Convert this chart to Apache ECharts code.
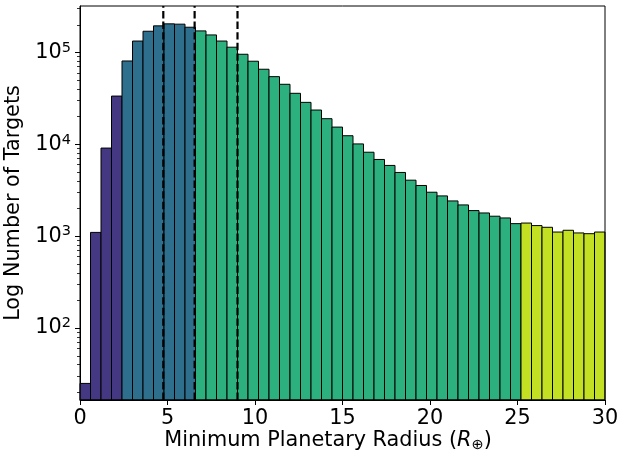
<!DOCTYPE html>
<html>
<head>
<meta charset="utf-8">
<script src="https://cdn.jsdelivr.net/npm/echarts@6/dist/echarts.min.js"></script>
<style>
html,body{margin:0;padding:0;background:#fff;}
#chart{width:621px;height:458px;}
</style>
</head>
<body>
<div id="chart"></div>
<script>
// ---- data ----
const xRange = [0, 30];
const binCount = 50;
const counts = [25, 1100, 9100, 33500, 80700, 133000, 170000, 194500, 204600, 203000,
  188000, 171500, 155000, 133000, 114000, 95500, 80200, 65600, 54500, 45000,
  35900, 28600, 23600, 19000, 15400, 12400, 10100, 8200, 6840, 5890,
  4940, 4070, 3565, 3010, 2745, 2420, 2190, 1900, 1790, 1650,
  1580, 1370, 1390, 1305, 1250, 1110, 1160, 1085, 1065, 1110];
const groupBreaks = [2.4, 6.6, 25.2];
const groupColors = ['#453882', '#2e6f8e', '#2cb07e', '#c4e022'];
const dashedLines = [4.76, 6.55, 9.0];
const xTicks = [0, 5, 10, 15, 20, 25, 30];
const yMajorTicks = [100, 1000, 10000, 100000];
const yMinorTicks = [20,30,40,50,60,70,80,90,200,300,400,500,600,700,800,900,
  2000,3000,4000,5000,6000,7000,8000,9000,20000,30000,40000,50000,60000,70000,80000,90000,200000,300000];
const yMin = 16.5, yMax = 320000;
const xLabel = 'Minimum Planetary Radius (';
const yLabel = 'Log Number of Targets';

// ---- build ----
const binW = (xRange[1] - xRange[0]) / binCount;
const bins = counts.map((c, i) => {
  const x0 = xRange[0] + i * binW;
  const mid = x0 + binW / 2;
  let g = 0;
  while (g < groupBreaks.length && mid > groupBreaks[g]) g++;
  return [x0, x0 + binW, c, g];
});

const FONT = 'DejaVu Sans';
const FS = 20.8;
const chart = echarts.init(document.getElementById('chart'), null, {renderer: 'canvas'});

const series = [{
  type: 'custom',
  data: bins,
  encode: {x: [0, 1], y: 2},
  renderItem: function (params, api) {
    const x0 = api.value(0), x1 = api.value(1), v = api.value(2), g = api.value(3);
    const p0 = api.coord([x0, v]);
    const p1 = api.coord([x1, yMin]);
    return {
      type: 'rect',
      shape: {x: p0[0], y: p0[1], width: p1[0] - p0[0], height: p1[1] - p0[1]},
      style: {fill: groupColors[g], stroke: '#000', lineWidth: 1}
    };
  },
  z: 2
}];
dashedLines.forEach(x => {
  series.push({
    type: 'line',
    data: [[x, yMin], [x, yMax]],
    symbol: 'none',
    lineStyle: {color: '#000', width: 2.2, type: [7.4, 3.2]},
    z: 5,
    silent: true
  });
});

chart.setOption({
  animation: false,
  grid: {left: 80, right: 16, top: 6, bottom: 58, containLabel: false, outerBoundsMode: 'none',
    show: true, borderColor: '#000', borderWidth: 1, z: 10},
  xAxis: {
    type: 'value', min: xRange[0], max: xRange[1], interval: 5,
    axisLine: {show: true, lineStyle: {color: '#000', width: 1}},
    axisTick: {show: true, inside: false, length: 5, lineStyle: {color: '#000', width: 1}},
    axisLabel: {show: true, margin: 8, color: '#000', fontFamily: FONT, fontSize: FS,
      customValues: xTicks},
    splitLine: {show: false}
  },
  yAxis: [{
    type: 'log', logBase: 10, min: yMin, max: yMax,
    name: yLabel, nameLocation: 'middle', nameGap: 50, nameRotate: 90,
    nameTextStyle: {color: '#000', fontFamily: FONT, fontSize: FS},
    axisLine: {show: true, lineStyle: {color: '#000', width: 1}},
    axisTick: {show: true, inside: false, length: 5, lineStyle: {color: '#000', width: 1}, customValues: yMajorTicks},
    axisLabel: {show: true, margin: 9, color: '#000', customValues: yMajorTicks,
      formatter: function (v) {
        const e = Math.round(Math.log10(v));
        return '{b|10}{s|' + e + '}';
      },
      rich: {
        b: {fontFamily: FONT, fontSize: FS, color: '#000', lineHeight: 24},
        s: {fontFamily: FONT, fontSize: 14.5, color: '#000', verticalAlign: 'top', lineHeight: 24, padding: [0, 0, 10, 0]}
      }
    },
    splitLine: {show: false}
  }, {
    type: 'log', logBase: 10, min: yMin, max: yMax, position: 'left',
    axisLine: {show: false},
    axisTick: {show: true, inside: false, length: 3, lineStyle: {color: '#000', width: 0.8}, customValues: yMinorTicks},
    axisLabel: {show: false},
    splitLine: {show: false}
  }],
  series: series,
  graphic: [{
    type: 'text',
    x: 328,
    y: 428,
    style: {
      text: '{a|' + xLabel + '}{i|R}{s|⊕}{a|)}',
      align: 'center',
      rich: {
        a: {fontFamily: FONT, fontSize: FS, fill: '#000', lineHeight: 26},
        i: {fontFamily: FONT, fontSize: FS, fontStyle: 'italic', fill: '#000', lineHeight: 26},
        s: {fontFamily: FONT, fontSize: 14.5, fill: '#000', lineHeight: 26, padding: [8, 0, 0, 0]}
      }
    }
  }]
});
</script>
</body>
</html>
